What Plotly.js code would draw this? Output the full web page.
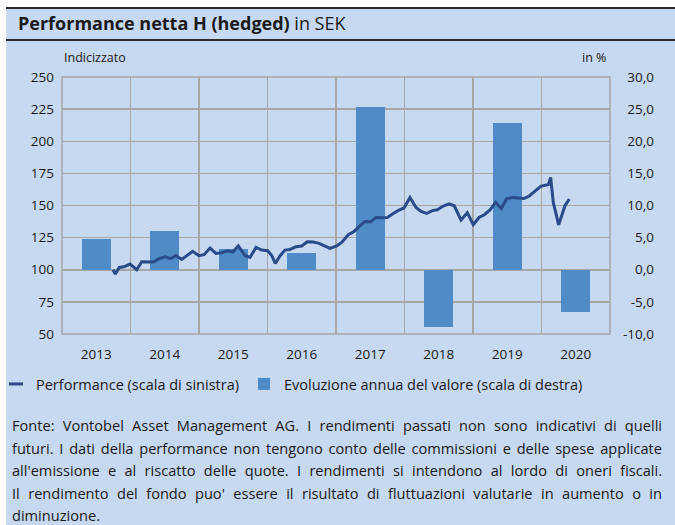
<!DOCTYPE html>
<html>
<head>
<meta charset="utf-8">
<script src="https://cdn.plot.ly/plotly-3.0.1.min.js"></script>
<style>
  html, body { margin: 0; padding: 0; background: #ffffff; }
  body { width: 675px; height: 525px; position: relative; overflow: hidden; font-family: "Open Sans", sans-serif; color: #1a1a1a; }
  #panel { position: absolute; left: 6px; top: 7px; width: 669px; height: 518px; background: #C6D9F1; border-top: 2px solid #2b2b2b; box-sizing: border-box; }
  #titlebar { position: absolute; left: 6px; top: 7px; width: 669px; height: 34px; border-bottom: 2px solid #2b2b2b; box-sizing: border-box; }
  #title { position: absolute; left: 18px; top: 9px; font-size: 18px; line-height: 28px; white-space: nowrap; }
  #title b { font-weight: 700; }
  #chart { position: absolute; left: 0; top: 0; width: 675px; height: 525px; }
  #note { position: absolute; left: 12px; top: 414px; width: 650px; font-size: 14.6px; line-height: 22.6px; }
  #note .ln { text-align: justify; text-align-last: justify; white-space: nowrap; }
  #note .ln.last { text-align-last: left; }
</style>
</head>
<body>
<div id="panel"></div>
<div id="titlebar"></div>
<div id="chart"></div>
<div id="title"><b>Performance netta H (hedged)</b> in SEK</div>
<div id="note">
  <div class="ln">Fonte: Vontobel Asset Management AG. I rendimenti passati non sono indicativi di quelli</div>
  <div class="ln">futuri. I dati della performance non tengono conto delle commissioni e delle spese applicate</div>
  <div class="ln">all'emissione e al riscatto delle quote. I rendimenti si intendono al lordo di oneri fiscali.</div>
  <div class="ln">Il rendimento del fondo puo' essere il risultato di fluttuazioni valutarie in aumento o in</div>
  <div class="ln last">diminuzione.</div>
</div>
<script>
// Annual change (right scale, %)
const years = [2013, 2014, 2015, 2016, 2017, 2018, 2019, 2020];
const yearLabels = ["2013", "2014", "2015", "2016", "2017", "2018", "2019", "2020"];
const annualChange = [4.8, 6.1, 3.3, 2.6, 25.3, -8.9, 22.9, -6.5];

// Performance index (left scale), time in decimal years
const perfT = [2013.745, 2013.778, 2013.836, 2013.905, 2013.993, 2014.091, 2014.164, 2014.241, 2014.333, 2014.420,
  2014.504, 2014.587, 2014.664, 2014.747, 2014.825, 2014.908, 2015.000, 2015.073, 2015.161, 2015.248,
  2015.331, 2015.419, 2015.492, 2015.574, 2015.672, 2015.745, 2015.832, 2015.915, 2016.003, 2016.061,
  2016.114, 2016.182, 2016.255, 2016.328, 2016.416, 2016.499, 2016.581, 2016.669, 2016.752, 2016.839,
  2016.912, 2017.010, 2017.083, 2017.180, 2017.263, 2017.340, 2017.423, 2017.507, 2017.584, 2017.667,
  2017.749, 2017.836, 2017.920, 2017.993, 2018.080, 2018.168, 2018.241, 2018.324, 2018.406, 2018.479,
  2018.566, 2018.650, 2018.727, 2018.825, 2018.917, 2019.004, 2019.088, 2019.165, 2019.248, 2019.331,
  2019.413, 2019.492, 2019.580, 2019.661, 2019.745, 2019.822, 2019.905, 2019.988, 2020.066, 2020.099,
  2020.134, 2020.172, 2020.251, 2020.343, 2020.406];
const perfIndex = [100.0, 96.7, 101.8, 102.3, 104.4, 100.0, 106.2, 106.0, 106.0, 108.6,
  110.1, 108.6, 111.1, 108.0, 110.9, 114.3, 110.9, 111.7, 116.9, 112.7,
  113.2, 114.8, 113.8, 118.5, 111.1, 109.6, 117.4, 115.3, 114.8, 111.1,
  104.9, 110.7, 115.3, 115.8, 117.9, 118.5, 121.8, 121.6, 120.5, 118.5,
  116.6, 118.5, 121.3, 127.3, 129.8, 133.7, 137.6, 137.4, 140.7, 140.5,
  140.7, 143.8, 146.5, 148.1, 156.3, 148.5, 145.4, 143.8, 146.0, 146.7,
  149.6, 151.2, 149.8, 138.7, 144.4, 135.0, 140.7, 142.8, 146.5, 152.4,
  147.7, 155.3, 156.3, 155.8, 155.5, 157.4, 161.5, 164.9, 166.0, 166.2,
  171.9, 152.4, 135.0, 149.8, 155.1];

const leftTicks = [50, 75, 100, 125, 150, 175, 200, 225, 250];
const rightTicks = [-10, -5, 0, 5, 10, 15, 20, 25, 30];
const rightTickText = ["-10,0", "-5,0", "0,0", "5,0", "10,0", "15,0", "20,0", "25,0", "30,0"];

const barX = years.map(y => y + 0.5);
const gridYears = years.concat([years[years.length - 1] + 1]);

const W = 675, H = 525;
const mL = 62, mR = 12, mT = 77, mB = 191;
const plotW = W - mL - mR;
const xDomEnd = (610 - mL) / plotW;

const FONT = "Open Sans, sans-serif";
const GRID = "#A6A6A6";
const LINE_COLOR = "#2A4B8A";
const BAR_COLOR = "#4F8BC6";

const traces = [
  {
    type: "bar",
    x: barX,
    y: annualChange,
    width: 0.42,
    xaxis: "x",
    yaxis: "y",
    marker: { color: BAR_COLOR, line: { width: 0 } },
    name: "Evoluzione annua del valore (scala di destra)",
    legendrank: 2
  },
  {
    type: "scatter",
    mode: "lines",
    x: perfT,
    y: perfIndex,
    xaxis: "x",
    yaxis: "y2",
    line: { color: LINE_COLOR, width: 3 },
    name: "Performance (scala di sinistra)",
    showlegend: false
  },
  {
    // legend key only (short dash like the original)
    type: "scatter",
    mode: "markers",
    x: [null],
    y: [null],
    xaxis: "x",
    yaxis: "y2",
    marker: { symbol: "line-ew", size: 10, color: LINE_COLOR, line: { color: LINE_COLOR, width: 3 } },
    name: "Performance (scala di sinistra)",
    legendrank: 1
  }
];

const layout = {
  width: W, height: H,
  margin: { l: mL, r: mR, t: mT, b: mB, pad: 0, autoexpand: false },
  paper_bgcolor: "rgba(0,0,0,0)",
  plot_bgcolor: "rgba(0,0,0,0)",
  font: { family: FONT, size: 13, color: "#1a1a1a" },
  showlegend: true,
  bargap: 0,
  xaxis: {
    domain: [0, xDomEnd],
    range: [years[0], years[years.length - 1] + 1],
    tickvals: barX,
    ticktext: yearLabels,
    ticks: "",
    showgrid: false,
    zeroline: false,
    showline: false,
    automargin: false,
    ticklabelstandoff: 10,
    tickfont: { size: 13.5 },
    minor: { tickvals: gridYears, showgrid: true, gridcolor: GRID, gridwidth: 1.5, ticks: "" },
    fixedrange: true
  },
  yaxis: {
    range: [-10, 30],
    tickvals: rightTicks,
    ticktext: rightTickText,
    side: "left",
    anchor: "free",
    position: (654 - mL) / plotW,
    ticks: "",
    showgrid: true,
    gridcolor: GRID,
    gridwidth: 1.5,
    zeroline: false,
    showline: false,
    automargin: false,
    tickfont: { size: 13.5 },
    fixedrange: true
  },
  yaxis2: {
    overlaying: "y",
    side: "left",
    anchor: "x",
    range: [50, 250],
    tickvals: leftTicks,
    ticks: "",
    showgrid: false,
    zeroline: false,
    showline: false,
    automargin: false,
    ticklabelstandoff: 7,
    tickfont: { size: 13.5 },
    fixedrange: true
  },
  shapes: [
    { type: "rect", xref: "x domain", yref: "y domain", x0: 0, x1: 1, y0: 0, y1: 1,
      line: { color: GRID, width: 1.5 }, fillcolor: "rgba(0,0,0,0)", layer: "below" }
  ],
  annotations: [
    { text: "Indicizzato", xref: "paper", yref: "paper", x: 0, y: 1, xanchor: "left", yanchor: "middle",
      yshift: 20, xshift: 0, showarrow: false, font: { size: 12.5 } },
    { text: "in %", xref: "x domain", yref: "paper", x: 1, y: 1, xanchor: "right", yanchor: "middle",
      yshift: 20, xshift: -2, showarrow: false, font: { size: 12.5 } }
  ],
  legend: {
    orientation: "h",
    x: (-4 - mL) / plotW, xanchor: "left",
    y: -(384 - (H - mB)) / (H - mT - mB), yanchor: "middle",
    font: { size: 14.5 },
    bgcolor: "rgba(0,0,0,0)",
    itemwidth: 30,
    tracegroupgap: 0
  }
};

Plotly.newPlot("chart", traces, layout, { staticPlot: true, displayModeBar: false });
</script>
</body>
</html>
